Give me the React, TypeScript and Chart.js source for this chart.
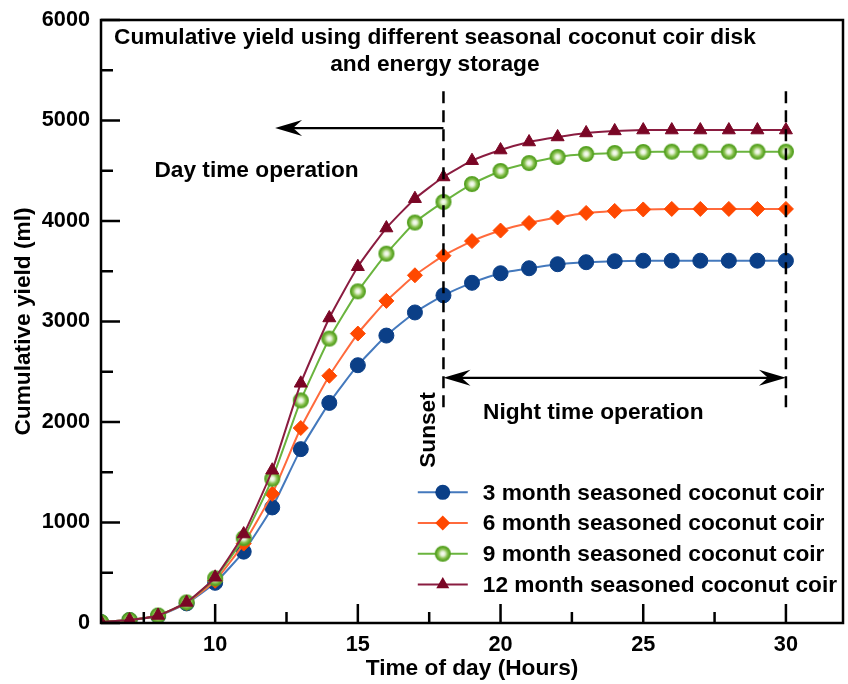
import React, { useEffect, useRef } from 'react';
import { Chart, registerables } from 'chart.js';

Chart.register(...registerables);

// ---------- data ----------
const HOURS = [6, 7, 8, 9, 10, 11, 12, 13, 14, 15, 16, 17, 18, 19, 20, 21, 22, 23, 24, 25, 26, 27, 28, 29, 30];
const YIELD_3M = [10, 30, 70, 195, 400, 710, 1150, 1730, 2190, 2565, 2860, 3090, 3260, 3385, 3480, 3530, 3570, 3590, 3600, 3605, 3605, 3605, 3605, 3605, 3605];
const YIELD_6M = [10, 30, 75, 200, 420, 790, 1285, 1940, 2460, 2880, 3205, 3460, 3655, 3800, 3905, 3980, 4035, 4080, 4100, 4115, 4120, 4120, 4120, 4120, 4120];
const YIELD_9M = [10, 30, 75, 205, 445, 845, 1435, 2215, 2830, 3300, 3675, 3985, 4190, 4368, 4498, 4577, 4637, 4667, 4677, 4687, 4690, 4690, 4690, 4690, 4690];
const YIELD_12M = [10, 30, 75, 205, 455, 885, 1520, 2385, 3035, 3545, 3930, 4222, 4438, 4600, 4706, 4786, 4836, 4876, 4896, 4905, 4905, 4905, 4905, 4905, 4905];
const SERIES_LABELS = [
  '3 month seasoned coconut coir',
  '6 month seasoned coconut coir',
  '9 month seasoned coconut coir',
  '12 month seasoned coconut coir',
];
const X_MAJOR_TICKS = [10, 15, 20, 25, 30];
const X_MINOR_TICKS = [7.5, 12.5, 17.5, 22.5, 27.5];
const Y_MAJOR_TICKS = [0, 1000, 2000, 3000, 4000, 5000, 6000];
const Y_MINOR_TICKS = [500, 1500, 2500, 3500, 4500, 5500];
const SUNSET_HOUR = 18;
const END_HOUR = 30;
const TITLE_LINES = ['Cumulative yield using different seasonal coconut coir disk', 'and energy storage'];
const DAY_TEXT = 'Day time operation';
const NIGHT_TEXT = 'Night time operation';
const SUNSET_TEXT = 'Sunset';
const X_TITLE = 'Time of day (Hours)';
const Y_TITLE = 'Cumulative yield (ml)';

const FONT = "'Liberation Sans', Arial, Helvetica, sans-serif";
const TEXT_SIZE = 22.7;

function makeGreenMarker(): HTMLCanvasElement {
  const c = document.createElement('canvas');
  const s = 18;
  c.width = s;
  c.height = s;
  const g = c.getContext('2d')!;
  const cx = 9, cy = 9, r = 7.3;
  const grad = g.createRadialGradient(cx, cy, 0, cx, cy, r);
  grad.addColorStop(0, '#ffffff');
  grad.addColorStop(0.3, '#e2f0d2');
  grad.addColorStop(0.65, '#86c04c');
  grad.addColorStop(1, '#4e9a1c');
  g.beginPath();
  g.arc(cx, cy, r, 0, Math.PI * 2);
  g.fillStyle = grad;
  g.fill();
  g.lineWidth = 1.5;
  g.strokeStyle = '#58a324';
  g.stroke();
  return c;
}

function drawMarker(ctx: CanvasRenderingContext2D, style: any, x: number, y: number, r: number, fill: string) {
  if (style instanceof HTMLCanvasElement) {
    ctx.drawImage(style, x - style.width / 2, y - style.height / 2);
    return;
  }
  ctx.beginPath();
  if (style === 'circle') {
    ctx.arc(x, y, r, 0, Math.PI * 2);
  } else if (style === 'rectRot') {
    ctx.moveTo(x - r, y);
    ctx.lineTo(x, y - r);
    ctx.lineTo(x + r, y);
    ctx.lineTo(x, y + r);
    ctx.closePath();
  } else if (style === 'triangle') {
    let rad = 0;
    ctx.moveTo(x + Math.sin(rad) * r, y - Math.cos(rad) * r);
    rad += (2 * Math.PI) / 3;
    ctx.lineTo(x + Math.sin(rad) * r, y - Math.cos(rad) * r);
    rad += (2 * Math.PI) / 3;
    ctx.lineTo(x + Math.sin(rad) * r, y - Math.cos(rad) * r);
    ctx.closePath();
  }
  ctx.fillStyle = fill;
  ctx.fill();
}

function arrowHead(ctx: CanvasRenderingContext2D, tipX: number, y: number, dir: number) {
  // dir = -1 : points left ; dir = 1 : points right
  const L = 27, H = 8, N = 18;
  ctx.beginPath();
  ctx.moveTo(tipX, y);
  ctx.lineTo(tipX - dir * L, y - H);
  ctx.lineTo(tipX - dir * N, y);
  ctx.lineTo(tipX - dir * L, y + H);
  ctx.closePath();
  ctx.fill();
}

const decorPlugin = {
  id: 'decor',
  afterDraw(chart: any) {
    const ctx: CanvasRenderingContext2D = chart.ctx;
    const xs = chart.scales.x;
    const ys = chart.scales.y;
    const { left, right, top, bottom } = chart.chartArea;
    ctx.save();
    ctx.strokeStyle = '#000';
    ctx.fillStyle = '#000';
    ctx.lineCap = 'butt';

    // frame
    ctx.lineWidth = 2.5;
    ctx.strokeRect(left, top, right - left, bottom - top);

    // inward ticks
    ctx.lineWidth = 2.5;
    ctx.beginPath();
    X_MAJOR_TICKS.forEach((v) => {
      const px = xs.getPixelForValue(v);
      ctx.moveTo(px, bottom);
      ctx.lineTo(px, bottom - 19);
    });
    X_MINOR_TICKS.forEach((v) => {
      const px = xs.getPixelForValue(v);
      ctx.moveTo(px, bottom);
      ctx.lineTo(px, bottom - 11);
    });
    Y_MAJOR_TICKS.forEach((v) => {
      const py = ys.getPixelForValue(v);
      ctx.moveTo(left, py);
      ctx.lineTo(left + 19, py);
    });
    Y_MINOR_TICKS.forEach((v) => {
      const py = ys.getPixelForValue(v);
      ctx.moveTo(left, py);
      ctx.lineTo(left + 12, py);
    });
    ctx.stroke();

    const xSun = xs.getPixelForValue(SUNSET_HOUR);
    const xEnd = xs.getPixelForValue(END_HOUR);

    // dashed vertical lines
    ctx.lineWidth = 2.5;
    ctx.setLineDash([12, 7]);
    ctx.beginPath();
    ctx.moveTo(xSun, ys.getPixelForValue(5290));
    ctx.lineTo(xSun, ys.getPixelForValue(2120));
    ctx.moveTo(xEnd, ys.getPixelForValue(5290));
    ctx.lineTo(xEnd, ys.getPixelForValue(2120));
    ctx.stroke();
    ctx.setLineDash([]);

    // day arrow (pointing left)
    const yDay = ys.getPixelForValue(4925);
    const xDayTip = xs.getPixelForValue(12.1);
    ctx.lineWidth = 2.3;
    ctx.beginPath();
    ctx.moveTo(xSun, yDay);
    ctx.lineTo(xDayTip + 15, yDay);
    ctx.stroke();
    arrowHead(ctx, xDayTip, yDay, -1);

    // night double arrow
    const yNight = ys.getPixelForValue(2440);
    ctx.beginPath();
    ctx.moveTo(xSun + 15, yNight);
    ctx.lineTo(xEnd - 15, yNight);
    ctx.stroke();
    arrowHead(ctx, xSun, yNight, -1);
    arrowHead(ctx, xEnd, yNight, 1);

    // texts
    ctx.font = `bold ${TEXT_SIZE}px ${FONT}`;
    ctx.textAlign = 'center';
    ctx.textBaseline = 'middle';
    ctx.fillText(TITLE_LINES[0], xs.getPixelForValue(17.7), ys.getPixelForValue(5825));
    ctx.fillText(TITLE_LINES[1], xs.getPixelForValue(17.7), ys.getPixelForValue(5555));
    ctx.fillText(DAY_TEXT, xs.getPixelForValue(11.45), ys.getPixelForValue(4500));
    ctx.fillText(NIGHT_TEXT, xs.getPixelForValue(23.25), ys.getPixelForValue(2095));

    ctx.save();
    ctx.translate(xSun - 15, ys.getPixelForValue(1920));
    ctx.rotate(-Math.PI / 2);
    ctx.fillText(SUNSET_TEXT, 0, 0);
    ctx.restore();

    // legend
    const legX = xs.getPixelForValue(17.1);
    let legY = ys.getPixelForValue(1300);
    const rowH = 30.7;
    ctx.textAlign = 'left';
    chart.data.datasets.forEach((ds: any) => {
      ctx.strokeStyle = ds.borderColor;
      ctx.lineWidth = 2;
      ctx.beginPath();
      ctx.moveTo(legX, legY);
      ctx.lineTo(legX + 50, legY);
      ctx.stroke();
      drawMarker(ctx, ds.pointStyle, legX + 25, legY, ds.pointRadius, ds.pointBackgroundColor);
      ctx.fillStyle = '#000';
      ctx.fillText(ds.label, legX + 65, legY + 1);
      legY += rowH;
    });

    ctx.restore();
  },
};

export default function App() {
  const ref = useRef<HTMLCanvasElement | null>(null);

  useEffect(() => {
    if (!ref.current) return;
    const green = makeGreenMarker();
    const mk = (xsArr: number[], ys: number[]) => xsArr.map((x, i) => ({ x, y: ys[i] }));
    const tickFont = { family: FONT, size: 21.7, weight: 'bold' as const };
    const titleFont = { family: FONT, size: TEXT_SIZE, weight: 'bold' as const };

    const chart = new Chart(ref.current, {
      type: 'line',
      data: {
        datasets: [
          {
            label: SERIES_LABELS[0],
            data: mk(HOURS, YIELD_3M),
            borderColor: '#4479bd',
            borderWidth: 2,
            pointStyle: 'circle',
            pointRadius: 7.5,
            pointBackgroundColor: '#0b3f87',
            pointBorderColor: '#0b3f87',
            pointBorderWidth: 1,
            tension: 0.15,
            order: 4,
          },
          {
            label: SERIES_LABELS[1],
            data: mk(HOURS, YIELD_6M),
            borderColor: '#ff6a3c',
            borderWidth: 2,
            pointStyle: 'rectRot',
            pointRadius: 7.5,
            pointBackgroundColor: '#ff4800',
            pointBorderColor: '#ff4800',
            pointBorderWidth: 1,
            tension: 0.15,
            order: 3,
          },
          {
            label: SERIES_LABELS[2],
            data: mk(HOURS, YIELD_9M),
            borderColor: '#6ab43e',
            borderWidth: 2,
            pointStyle: green as any,
            pointRadius: 7.5,
            pointBackgroundColor: '#6ab43e',
            pointBorderColor: '#4e9a1c',
            tension: 0.15,
            order: 2,
          },
          {
            label: SERIES_LABELS[3],
            data: mk(HOURS, YIELD_12M),
            borderColor: '#8a1c40',
            borderWidth: 2,
            pointStyle: 'triangle',
            pointRadius: 7.5,
            pointBackgroundColor: '#7a0625',
            pointBorderColor: '#7a0625',
            pointBorderWidth: 1,
            tension: 0.15,
            order: 1,
          },
        ],
      },
      options: {
        responsive: false,
        animation: false,
        devicePixelRatio: 1,
        layout: { autoPadding: false, padding: { top: 20, right: 5, left: 0, bottom: 0 } },
        plugins: { legend: { display: false }, tooltip: { enabled: false } },
        scales: {
          x: {
            type: 'linear',
            min: 6,
            max: 32,
            afterBuildTicks: (s: any) => {
              s.ticks = X_MAJOR_TICKS.map((v) => ({ value: v }));
            },
            afterFit: (s: any) => {
              s.height = 61;
              s.paddingLeft = 0;
              s.paddingRight = 0;
            },
            grid: { display: false, drawTicks: false },
            border: { display: false },
            ticks: {
              font: tickFont,
              color: '#000',
              padding: 9,
              maxRotation: 0,
              autoSkip: false,
              callback: (v: any) => String(v),
            },
            title: {
              display: true,
              text: X_TITLE,
              color: '#000',
              font: titleFont,
              padding: { top: 0, bottom: 2 },
            },
          },
          y: {
            type: 'linear',
            min: 0,
            max: 6000,
            afterBuildTicks: (s: any) => {
              s.ticks = Y_MAJOR_TICKS.map((v) => ({ value: v }));
            },
            afterFit: (s: any) => {
              s.width = 101;
              s.paddingTop = 0;
              s.paddingBottom = 0;
            },
            grid: { display: false, drawTicks: false },
            border: { display: false },
            ticks: {
              font: tickFont,
              color: '#000',
              padding: 11,
              autoSkip: false,
              callback: (v: any) => String(v),
            },
            title: {
              display: true,
              text: Y_TITLE,
              color: '#000',
              font: titleFont,
              padding: { top: 10, bottom: 0 },
            },
          },
        },
      },
      plugins: [decorPlugin],
    });
    return () => chart.destroy();
  }, []);

  return (
    <div style={{ position: 'fixed', left: 0, top: 0, width: 848, height: 684, background: '#fff' }}>
      <canvas ref={ref} width={848} height={684} style={{ display: 'block', width: 848, height: 684 }} />
    </div>
  );
}
